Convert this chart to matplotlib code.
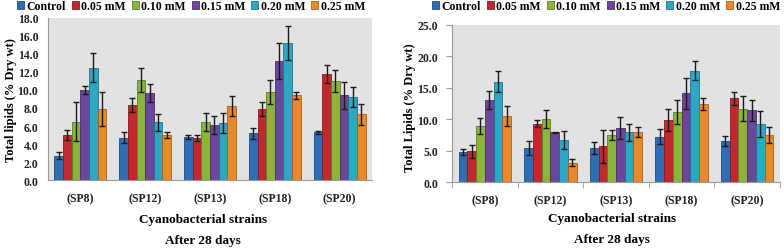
import numpy as np
import matplotlib
matplotlib.use('Agg')
import matplotlib.pyplot as plt
from matplotlib.ticker import FixedLocator

plt.rcParams['font.family'] = 'Liberation Serif'
plt.rcParams['font.weight'] = 'bold'

strains = ['(SP8)', '(SP12)', '(SP13)', '(SP18)', '(SP20)']
treatments = ['Control', '0.05 mM', '0.10 mM', '0.15 mM', '0.20 mM', '0.25 mM']
colors = ['#2F6DB5', '#C0292E', '#8BB43D', '#6B469B', '#2EA7C4', '#E8892B']
edges = ['#1f4c80', '#86191d', '#5f7d26', '#4a2f6d', '#1d7489', '#a85e18']

# left panel: total lipids, rows = strains, cols = treatments
left_vals = [
    [2.7, 5.0, 6.5, 10.0, 12.5, 7.9],
    [4.7, 8.3, 11.1, 9.7, 6.4, 5.0],
    [4.8, 4.7, 6.5, 6.1, 6.3, 8.2],
    [5.2, 7.9, 9.8, 13.2, 15.2, 9.4],
    [5.3, 11.8, 11.0, 9.4, 9.2, 7.3],
]
left_err = [
    [0.4, 0.6, 2.2, 0.4, 1.6, 1.9],
    [0.6, 0.8, 1.3, 1.0, 0.9, 0.35],
    [0.2, 0.35, 1.0, 1.0, 1.1, 1.1],
    [0.6, 0.8, 1.3, 2.0, 1.9, 0.4],
    [0.2, 1.0, 1.2, 1.5, 1.1, 1.2],
]

# right panel
right_vals = [
    [4.8, 4.9, 8.9, 13.1, 16.0, 10.5],
    [5.4, 9.3, 10.0, 7.9, 6.7, 3.1],
    [5.4, 5.7, 7.5, 8.6, 7.9, 8.0],
    [7.2, 9.9, 11.1, 14.1, 17.7, 12.4],
    [6.6, 13.3, 11.7, 11.4, 9.2, 7.5],
]
right_err = [
    [0.5, 1.0, 1.3, 1.4, 1.7, 1.6],
    [1.1, 0.6, 1.4, 0.1, 1.5, 0.6],
    [0.9, 2.6, 0.8, 1.8, 1.3, 0.8],
    [1.2, 1.8, 1.9, 2.4, 1.5, 1.0],
    [0.8, 1.1, 2.0, 1.7, 2.1, 1.3],
]

W, H = 784, 251
fig = plt.figure(figsize=(W / 100, H / 100), dpi=100)


def px_axes(x0, y0, x1, y1):
    return fig.add_axes([x0 / W, 1 - y1 / H, (x1 - x0) / W, (y1 - y0) / H])


def draw_panel(ax, vals, errs, ymax, step, ticks_out):
    vals = np.array(vals)
    errs = np.array(errs)
    x = np.arange(len(strains))
    bw = 0.8 / len(treatments)
    handles = []
    for i, t in enumerate(treatments):
        pos = x - 0.4 + bw * (i + 0.5)
        b = ax.bar(pos, vals[:, i], bw, color=colors[i], edgecolor=edges[i],
                   linewidth=0.6, label=t, zorder=2)
        ax.errorbar(pos, vals[:, i], yerr=errs[:, i], fmt='none', ecolor='#1a1a1a',
                    elinewidth=1.0, capsize=2.5, capthick=1.0, zorder=3)
        handles.append(b)
    ax.set_facecolor('#e2e2e2')
    ax.set_xlim(-0.5, len(strains) - 0.5)
    ax.set_ylim(0, ymax)
    yt = np.arange(0, ymax + 0.01, step)
    ax.set_yticks(yt)
    ax.set_yticklabels(['%.1f' % v for v in yt])
    ax.set_xticks(x)
    ax.set_xticklabels(strains)
    for s in ['top', 'right']:
        ax.spines[s].set_visible(False)
    ax.spines['left'].set_color('#9a9a9a')
    ax.spines['bottom'].set_color('#9a9a9a')
    ax.tick_params(axis='both', labelsize=8.5, colors='#222222')
    ax.tick_params(axis='x', length=0, pad=9)
    if ticks_out:
        ax.tick_params(axis='y', length=4, color='#9a9a9a', direction='out', pad=6)
        ax.xaxis.set_minor_locator(FixedLocator(np.arange(-0.5, len(strains), 1.0)))
        ax.tick_params(axis='x', which='minor', length=4, color='#9a9a9a')
    else:
        ax.tick_params(axis='y', length=0, pad=7)
    return handles


ax1 = px_axes(48, 19, 372, 181)
h1 = draw_panel(ax1, left_vals, left_err, 18.0, 2.0, False)
ax2 = px_axes(452, 26, 780, 183)
h2 = draw_panel(ax2, right_vals, right_err, 25.0, 5.0, True)

fig.text(11 / W, 1 - 100 / H, 'Total lipids (% Dry wt)', rotation=90, ha='center',
         va='center', fontsize=9, fontweight='bold')
fig.text(410 / W, 1 - 108 / H, 'Total Lipids (% Dry wt)', rotation=90, ha='center',
         va='center', fontsize=9, fontweight='bold')

for cx, y1, y2 in [(203, 220, 241), (612, 219, 240)]:
    fig.text(cx / W, 1 - y1 / H, 'Cyanobacterial strains', ha='center', va='center',
             fontsize=9.5, fontweight='bold')
    fig.text(cx / W, 1 - y2 / H, 'After 28 days', ha='center', va='center',
             fontsize=9.5, fontweight='bold')

for handles, cx in [(h1, 191), (h2, 606)]:
    fig.legend(handles, treatments, loc='center', bbox_to_anchor=(cx / W, 1 - 7 / H),
               ncol=6, frameon=False, fontsize=8.5, handlelength=0.6, handleheight=0.6,
               handletextpad=0.2, columnspacing=0.5, borderpad=0, borderaxespad=0)

fig.savefig('out.png', dpi=100)
